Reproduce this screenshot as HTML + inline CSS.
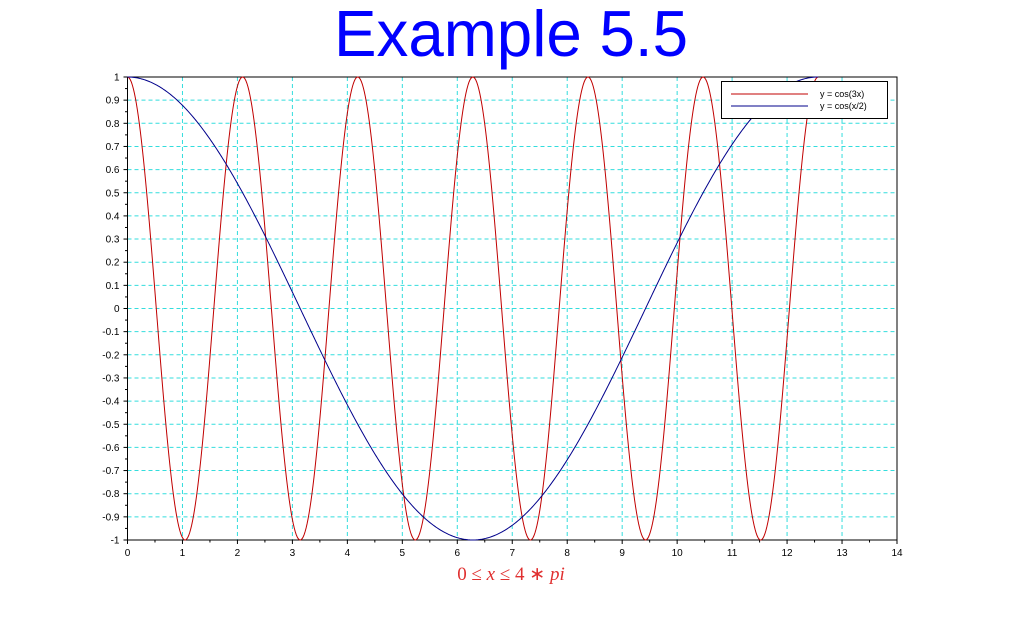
<!DOCTYPE html>
<html><head><meta charset="utf-8"><style>
body{margin:0;background:#fff;}
svg{display:block;font-family:"Liberation Sans",sans-serif;}
</style></head><body>
<svg id="c" width="1024" height="618" viewBox="0 0 1024 618">
<text x="511" y="56" font-size="65" fill="#0000ff" text-anchor="middle" textLength="354" lengthAdjust="spacingAndGlyphs">Example 5.5</text>
<g id="grid"></g>
<g id="axes"></g>
<g id="series"></g>
<g>
<rect x="721.5" y="81.5" width="166" height="37" fill="#fff" stroke="#000" stroke-width="1"/>
<line x1="731" y1="94" x2="808" y2="94" stroke="#c00000"/>
<text x="820" y="97" font-size="9">y = cos(3x)</text>
<line x1="731" y1="106" x2="808" y2="106" stroke="#00008b"/>
<text x="820" y="109" font-size="9">y = cos(x/2)</text>
</g>
<text x="511" y="580" font-size="19" fill="#e03030" text-anchor="middle" font-family="Liberation Serif,serif"><tspan>0 ≤ </tspan><tspan font-style="italic">x</tspan><tspan> ≤ 4 ∗ </tspan><tspan font-style="italic">pi</tspan></text>
</svg>
<script>
const xTicks=[0,1,2,3,4,5,6,7,8,9,10,11,12,13,14];
const yTicks=[1,0.9,0.8,0.7,0.6,0.5,0.4,0.3,0.2,0.1,0,-0.1,-0.2,-0.3,-0.4,-0.5,-0.6,-0.7,-0.8,-0.9,-1];
const xSamples=[];for(let i=0;i<=700;i++)xSamples.push(4*Math.PI*i/700);
const seriesCos3x=xSamples.map(v=>Math.cos(3*v));
const seriesCosHalf=xSamples.map(v=>Math.cos(v/2));
const X0=127.5,X1=897,Y0=540,Y1=77;
const sx=v=>X0+(v-0)/(14-0)*(X1-X0);
const sy=v=>Y0-(v+1)/2*(Y0-Y1);
const NS='http://www.w3.org/2000/svg';
function mk(t,a,p){const e=document.createElementNS(NS,t);for(const k in a)e.setAttribute(k,a[k]);p.appendChild(e);return e;}
const grid=document.getElementById('grid'),axes=document.getElementById('axes'),ser=document.getElementById('series');
xTicks.forEach(t=>{if(t>0&&t<14){const l=mk('line',{x1:sx(t),x2:sx(t),y1:Y1,y2:Y0,stroke:'#33dddd','stroke-dasharray':'4,3'},grid);

}
const tk=mk('line',{x1:sx(t),x2:sx(t),y1:Y0,y2:Y0+4,stroke:'#000'},axes);


if(t<14){const m=mk('line',{x1:sx(t+0.5),x2:sx(t+0.5),y1:Y0,y2:Y0+2.5,stroke:'#000'},axes);

}
const tx=mk('text',{x:sx(t),y:Y0+16,'font-size':10,'text-anchor':'middle'},axes);tx.textContent=t;

});
yTicks.forEach(t=>{if(t>-1&&t<1){const l=mk('line',{x1:X0,x2:X1,y1:sy(t),y2:sy(t),stroke:'#33dddd','stroke-dasharray':'4,3'},grid);

}
const tk=mk('line',{x1:X0-4,x2:X0,y1:sy(t),y2:sy(t),stroke:'#000'},axes);


if(t>-1){const m=mk('line',{x1:X0-2.5,x2:X0,y1:sy(t-0.05),y2:sy(t-0.05),stroke:'#000'},axes);

}
const tx=mk('text',{x:X0-8,y:sy(t)+3.5,'font-size':10,'text-anchor':'end'},axes);tx.textContent=t;

});
const box=mk('rect',{x:X0,y:Y1,width:X1-X0,height:Y0-Y1,fill:'none',stroke:'#000'},axes);


function line(vals,col,name){const d=xSamples.map((v,i)=>(i?'L':'M')+sx(v).toFixed(2)+','+sy(vals[i]).toFixed(2)).join('');
const p=mk('path',{d:d,fill:'none',stroke:col,'stroke-width':1},ser);

}
line(seriesCos3x,'#c00000','line-cos3x');
line(seriesCosHalf,'#00008b','line-cosx2');
</script>
</body></html>
